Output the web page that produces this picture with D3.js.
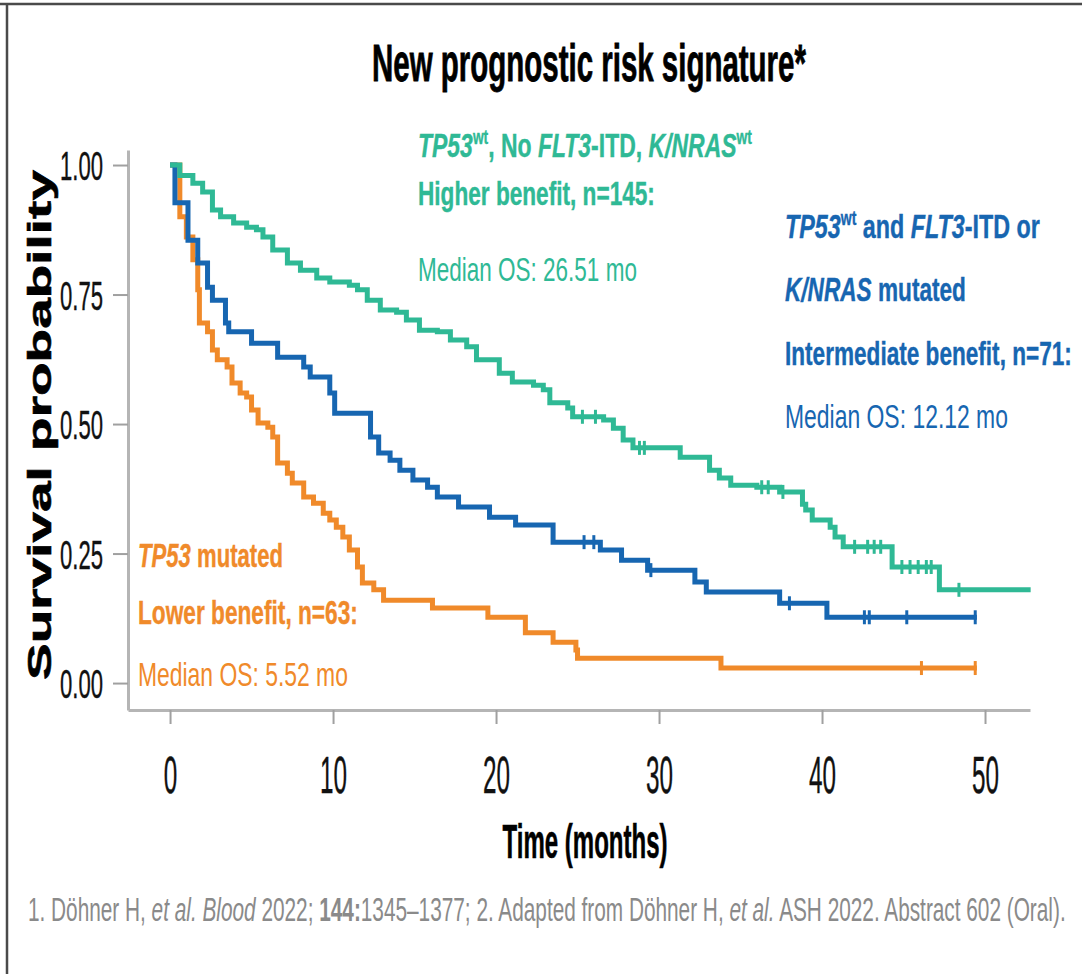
<!DOCTYPE html>
<html>
<head>
<meta charset="utf-8">
<script src="https://cdn.jsdelivr.net/npm/d3@7"></script>
<style>
  html, body { margin: 0; padding: 0; background: #fff; }
  text { font-family: "Liberation Sans", Arial, sans-serif; }
</style>
</head>
<body>
<svg id="chart" width="1082" height="974"></svg>
<script>
'use strict';

// Kaplan-Meier step data (time in months, survival probability after the drop)
var greenTime = [0, 0.6, 1.4, 2.0, 2.6, 3.1, 3.9, 4.7, 5.3, 5.7, 6.3, 7.2, 8.0, 9.0, 9.8, 11.0, 11.5, 12.1, 12.9, 13.9, 14.5, 15.3, 16.4, 17.2, 18.2, 18.8, 20.2, 21.0, 22.3, 22.9, 23.3, 24.4, 24.7, 26.6, 27.2, 27.8, 28.4, 31.3, 33.1, 33.7, 34.4, 36.0, 37.4, 38.8, 39.0, 39.4, 40.5, 40.8, 41.3, 44.3, 47.2];
var greenSurv = [1.00, 0.980, 0.965, 0.948, 0.913, 0.900, 0.888, 0.880, 0.875, 0.861, 0.836, 0.811, 0.797, 0.782, 0.774, 0.768, 0.759, 0.739, 0.720, 0.716, 0.701, 0.681, 0.678, 0.662, 0.649, 0.624, 0.598, 0.581, 0.575, 0.566, 0.541, 0.531, 0.514, 0.508, 0.492, 0.469, 0.454, 0.436, 0.411, 0.396, 0.382, 0.378, 0.369, 0.345, 0.334, 0.315, 0.301, 0.282, 0.263, 0.224, 0.180];
var greenEnd = 52.8;
var greenCensor = [25.3, 26.1, 28.8, 29.1, 36.3, 36.7, 37.6, 42.0, 42.8, 43.2, 43.6, 44.9, 45.4, 45.9, 46.4, 46.7, 48.4];

var blueTime = [0, 0.3, 1.1, 1.7, 2.3, 2.6, 3.4, 3.6, 5.0, 6.6, 8.2, 8.6, 9.8, 10.1, 12.3, 12.8, 13.5, 14.1, 14.9, 15.8, 16.4, 17.7, 19.6, 21.2, 23.5, 26.4, 27.7, 29.3, 32.2, 32.9, 37.4, 40.3];
var blueSurv = [1.00, 0.927, 0.855, 0.811, 0.764, 0.739, 0.695, 0.678, 0.656, 0.629, 0.610, 0.591, 0.560, 0.521, 0.475, 0.444, 0.430, 0.411, 0.392, 0.378, 0.359, 0.340, 0.320, 0.305, 0.272, 0.257, 0.237, 0.218, 0.195, 0.176, 0.154, 0.127];
var blueEnd = 49.5;
var blueCensor = [25.4, 26.0, 29.5, 38.0, 42.6, 42.9, 45.2, 49.4];

var orangeTime = [0, 0.6, 1.0, 1.4, 1.7, 1.8, 2.3, 2.6, 2.9, 3.5, 3.8, 4.3, 4.7, 5.0, 5.4, 6.0, 6.3, 6.6, 7.2, 7.5, 8.2, 8.8, 9.4, 9.8, 10.2, 10.6, 11.0, 11.5, 11.8, 12.5, 13.1, 16.1, 19.5, 21.8, 23.5, 24.9, 25.0, 33.8];
var orangeSurv = [1.00, 0.900, 0.861, 0.817, 0.759, 0.695, 0.678, 0.643, 0.624, 0.610, 0.579, 0.560, 0.552, 0.527, 0.502, 0.494, 0.475, 0.425, 0.405, 0.386, 0.359, 0.347, 0.328, 0.315, 0.301, 0.282, 0.257, 0.224, 0.193, 0.180, 0.160, 0.145, 0.127, 0.097, 0.079, 0.064, 0.048, 0.029];
var orangeEnd = 49.5;
var orangeCensor = [46.1, 49.4];

var xTicks = [0, 10, 20, 30, 40, 50];
var yTicks = [0, 0.25, 0.5, 0.75, 1];

var GREEN = "#2fb995", BLUE = "#1766b1", ORANGE = "#f08a2a";

var svg = d3.select("#chart");
svg.append("rect").attr("width", 1082).attr("height", 974).attr("fill", "#fff");

// slide frame
svg.append("line").attr("x1", 0).attr("x2", 1082).attr("y1", 4).attr("y2", 4)
   .attr("stroke", "#4a4a4a").attr("stroke-width", 2.5);
svg.append("line").attr("x1", 7).attr("x2", 7).attr("y1", 4).attr("y2", 974)
   .attr("stroke", "#4a4a4a").attr("stroke-width", 2.5);

var x = d3.scaleLinear().domain([-2.58, 52.76]).range([128, 1030]);
var y = d3.scaleLinear().domain([-0.052, 1.029]).range([710, 150]);

// text helper: squeezes text horizontally to a given width
function addText(px, py, segs, o) {
  var g = svg.append("g");
  var t = g.append("text")
    .attr("font-size", o.size)
    .attr("font-weight", o.weight || "normal")
    .attr("fill", o.fill || "#000")
    .attr("text-anchor", o.anchor || "start");
  if (o.stroke) t.attr("stroke", o.fill || "#000").attr("stroke-width", o.stroke);
  var shift = 0;
  segs.forEach(function (s) {
    var sp = t.append("tspan").text(s.t);
    if (s.i) sp.attr("font-style", "italic");
    if (s.b) sp.attr("font-weight", "bold");
    if (s.sup) {
      sp.attr("font-size", o.size * 0.6).attr("dy", -o.size * 0.38 - shift);
      shift = -o.size * 0.38;
    } else if (shift !== 0) {
      sp.attr("dy", -shift);
      shift = 0;
    }
  });
  var w = t.node().getComputedTextLength();
  var sx = o.width ? o.width / w : 1;
  var sy = o.sy || 1;
  g.attr("transform", "translate(" + px + "," + py + ")" + (o.rotate ? " rotate(" + o.rotate + ")" : "") + " scale(" + sx + "," + sy + ")");
  return g;
}

// axes
var yAxis = svg.append("g").attr("transform", "translate(128,0)")
  .call(d3.axisLeft(y).tickValues(yTicks).tickFormat(d3.format(".2f")).tickSize(15).tickSizeOuter(0));
var xAxis = svg.append("g").attr("transform", "translate(0,710)")
  .call(d3.axisBottom(x).tickValues(xTicks).tickSize(14).tickSizeOuter(0).tickPadding(33));

[yAxis, xAxis].forEach(function (a) {
  a.select(".domain").attr("stroke", "#b5b5b5").attr("stroke-width", 3);
  a.selectAll(".tick line").attr("stroke", "#a0a0a0").attr("stroke-width", 2);
});

yAxis.selectAll(".tick text")
  .attr("font-size", 41).attr("fill", "#111").attr("x", 0).attr("dy", "0.36em")
  .attr("stroke", "#111").attr("stroke-width", 0.4)
  .attr("font-family", "Liberation Sans, Arial, sans-serif");
var yW = yAxis.select(".tick:last-of-type text").node().getComputedTextLength();
yAxis.selectAll(".tick text").attr("transform", "translate(-25,0) scale(" + (43 / yW) + ",1)");

xAxis.selectAll(".tick text")
  .attr("font-size", 51).attr("fill", "#111")
  .attr("stroke", "#111").attr("stroke-width", 0.4)
  .attr("font-family", "Liberation Sans, Arial, sans-serif");
var xW = xAxis.selectAll(".tick text").filter(function (d) { return d === 10; }).node().getComputedTextLength();
xAxis.selectAll(".tick text").attr("transform", "scale(" + (27 / xW) + ",1)");

// curves
var stepLine = d3.line()
  .x(function (d) { return x(d[0]); })
  .y(function (d) { return y(d[1]); })
  .curve(d3.curveStepAfter);

function drawCurve(times, surv, end, censor, color) {
  var pts = times.map(function (t, i) { return [t, surv[i]]; });
  pts.push([end, surv[surv.length - 1]]);
  svg.append("path").datum(pts)
    .attr("d", stepLine)
    .attr("fill", "none")
    .attr("stroke", color)
    .attr("stroke-width", 5)
    .attr("stroke-linejoin", "miter");
  censor.forEach(function (c) {
    var s = surv[d3.bisectRight(times, c) - 1];
    svg.append("line")
      .attr("x1", x(c)).attr("x2", x(c))
      .attr("y1", y(s) - 7).attr("y2", y(s) + 7)
      .attr("stroke", color).attr("stroke-width", 3);
  });
}

drawCurve(orangeTime, orangeSurv, orangeEnd, orangeCensor, ORANGE);
drawCurve(blueTime, blueSurv, blueEnd, blueCensor, BLUE);
drawCurve(greenTime, greenSurv, greenEnd, greenCensor, GREEN);

// title and axis titles
addText(589, 81, [{t: "New prognostic risk signature*"}], {size: 51, weight: "bold", anchor: "middle", width: 434, stroke: 0.8});
addText(585, 858, [{t: "Time (months)"}], {size: 49, weight: "bold", anchor: "middle", width: 165, stroke: 0.6});
addText(51, 425, [{t: "Survival probability"}], {size: 34, weight: "bold", anchor: "middle", width: 510, rotate: -90, sy: 0.95, stroke: 0.6});

// group annotations
addText(418, 157, [{t: "TP53", i: true}, {t: "wt", sup: true}, {t: ", No "}, {t: "FLT3", i: true}, {t: "-ITD, "}, {t: "K/NRAS", i: true}, {t: "wt", sup: true}],
  {size: 33, weight: "bold", fill: GREEN, width: 334, stroke: 0.4});
addText(418, 205, [{t: "Higher benefit, n=145:"}], {size: 33, weight: "bold", fill: GREEN, width: 237, stroke: 0.4});
addText(418, 281, [{t: "Median OS: 26.51 mo"}], {size: 33, fill: GREEN, width: 219});

addText(785, 238, [{t: "TP53", i: true}, {t: "wt", sup: true}, {t: " and "}, {t: "FLT3", i: true}, {t: "-ITD or"}],
  {size: 33, weight: "bold", fill: BLUE, width: 255, stroke: 0.4});
addText(785, 301, [{t: "K/NRAS", i: true}, {t: " mutated"}], {size: 33, weight: "bold", fill: BLUE, width: 181, stroke: 0.4});
addText(785, 365, [{t: "Intermediate benefit, n=71:"}], {size: 33, weight: "bold", fill: BLUE, width: 287, stroke: 0.4});
addText(785, 428, [{t: "Median OS: 12.12 mo"}], {size: 33, fill: BLUE, width: 223});

addText(138, 567, [{t: "TP53", i: true}, {t: " mutated"}], {size: 33, weight: "bold", fill: ORANGE, width: 145, stroke: 0.4});
addText(138, 624, [{t: "Lower benefit, n=63:"}], {size: 33, weight: "bold", fill: ORANGE, width: 220, stroke: 0.4});
addText(138, 686, [{t: "Median OS: 5.52 mo"}], {size: 33, fill: ORANGE, width: 210});

// footnote
addText(28, 921, [
  {t: "1. Döhner H, "}, {t: "et al.", i: true}, {t: " "}, {t: "Blood", i: true}, {t: " 2022; "},
  {t: "144:", b: true}, {t: "1345–1377; 2. Adapted from Döhner H, "}, {t: "et al.", i: true},
  {t: " ASH 2022. Abstract 602 (Oral)."}
], {size: 34, fill: "#8a8a8a", width: 1038});
</script>
</body>
</html>
